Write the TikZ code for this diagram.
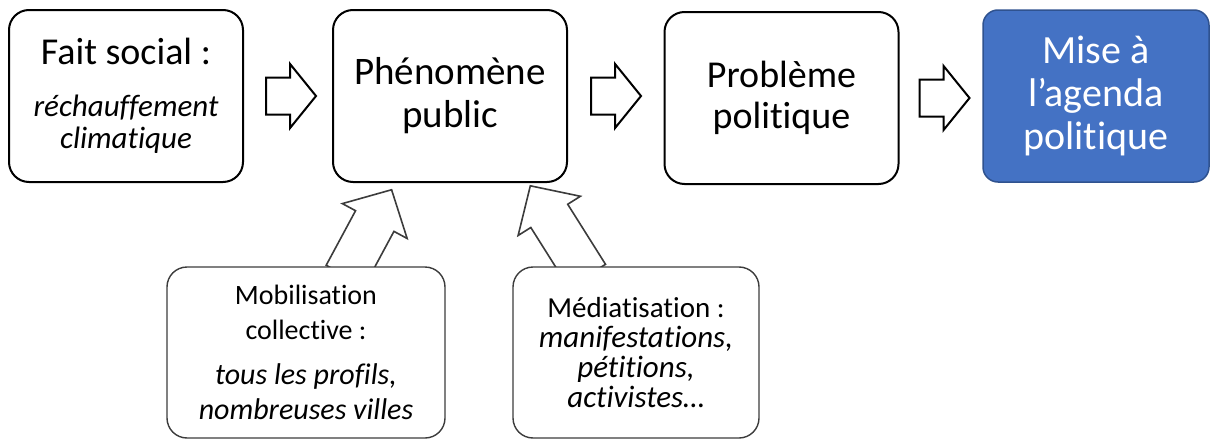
\documentclass[tikz,border=0pt]{standalone}
\usepackage{fontspec}
\setmainfont[Ligatures=NoCommon]{Carlito}
\usetikzlibrary{shapes.arrows,calc,backgrounds}
\definecolor{agendablue}{RGB}{68,114,196}
\definecolor{agendaborder}{RGB}{47,82,143}
\definecolor{sidegray}{RGB}{60,60,60}
\newcommand{\examplefive}[1]{{\fontsize{30}{33}\selectfont\itshape #1}}
\newcommand{\examplesix}[1]{{\fontsize{31}{30}\selectfont\itshape #1}}

\begin{document}
\begin{tikzpicture}[x=1pt,y=-1pt,
    stage/.style={draw=black, line width=2pt, rounded corners=20pt,
                  minimum width=234pt, minimum height=172pt,
                  align=center, inner sep=0pt},
    factor/.style={draw=sidegray, fill=white, line width=1.4pt, rounded corners=20pt,
                   minimum height=171pt, align=center, inner sep=0pt,
                   font=\fontsize{28}{29}\selectfont},
    flow/.style={single arrow, draw=black, line width=2pt,
                 minimum height=50pt, inner xsep=0pt, inner ysep=17.5pt,
                 single arrow head extend=13.5pt,
                 single arrow tip angle=102, anchor=tail},
    push/.style={single arrow, draw=sidegray, fill=white, line width=1.6pt,
                 inner xsep=0pt, inner ysep=21pt,
                 single arrow head extend=15pt,
                 single arrow tip angle=92, anchor=tail}
  ]
  \useasboundingbox (0,0) rectangle (1211,439);

  % top row
  \node[stage, font=\fontsize{31}{32}\selectfont] (fait) at (126,96)
    {{\fontsize{38}{40}\selectfont Fait social :}\\[20pt]
     \textit{réchauffement}\\ \textit{climatique}};
  \node[stage, font=\fontsize{39}{43}\selectfont] (phen) at (450,96)
    {Phénomène\\ public};
  \node[stage, font=\fontsize{38}{41}\selectfont] (prob) at (781.5,98)
    {Problème\\ politique};
  \node[stage, draw=agendaborder, fill=agendablue, line width=1.5pt,
        rounded corners=15pt, minimum width=226pt, text=white,
        font=\fontsize{40}{43}\selectfont] (mise) at (1096,96)
    {Mise à\\ l’agenda\\ politique};

  % bottom row
  \node[factor, minimum width=278pt, font=\fontsize{28}{35}\selectfont] (mobi) at (306,352.5)
    {Mobilisation\\ collective :\\[10pt]
     \examplefive{tous les profils,}\\ \examplefive{nombreuses villes}};
  \node[factor, minimum width=246pt, font=\fontsize{29}{30}\selectfont] (media) at (636,352.5)
    {Médiatisation :\\ \examplesix{manifestations,}\\
     \examplesix{pétitions,}\\ \examplesix{activistes…}};

  % block arrows
  \node[flow] (f1) at ($(fait.east)+(21,0)$) {};
  \node[flow] (f2) at ($(phen.east)+(22,0)$) {};
  \node[flow] (f3) at ($(prob.east)+(19,0)$) {};
  \begin{scope}[on background layer]
    \node[push, rotate=61.7, minimum height=97.5pt] (p1) at ($(mobi.north)+(39,10)$) {};
    \node[push, rotate=122.2, minimum height=106.5pt] (p2) at ($(media.north)+(-48.5,10.3)$) {};
  \end{scope}
\end{tikzpicture}
\end{document}
